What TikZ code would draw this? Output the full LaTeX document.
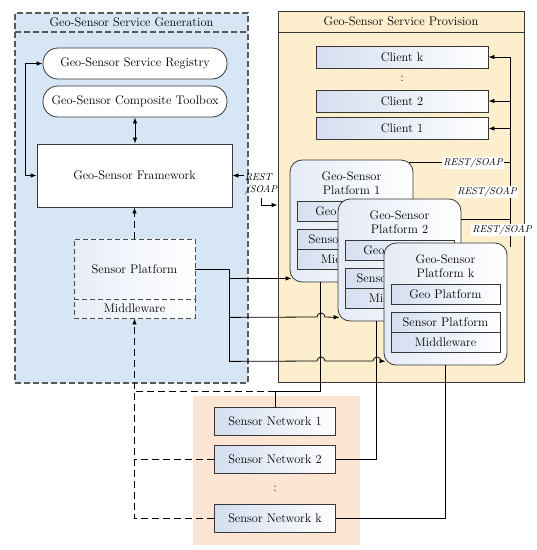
\documentclass[tikz,border=0pt]{standalone}
\usepackage{tikz}
\usetikzlibrary{arrows.meta}

\definecolor{genblue}{RGB}{214,230,245}
\definecolor{provyellow}{RGB}{253,238,205}
\definecolor{netorange}{RGB}{252,229,211}
\definecolor{boxblue}{RGB}{212,222,240}
\definecolor{linegray}{RGB}{55,55,55}

\tikzset{
  area/.style={draw=linegray, line width=0.9pt, inner sep=0pt},
  gendash/.style={draw=black!65, line width=1.1pt, dash pattern=on 6pt off 3pt},
  pill/.style={draw=linegray, line width=0.8pt, fill=white, rounded corners=15pt,
    minimum width=184pt, minimum height=31pt, inner sep=0pt},
  shadebox/.style={draw=linegray, line width=0.8pt, left color=boxblue, right color=white, inner sep=0pt},
  inbox/.style={minimum width=109pt, minimum height=20pt},
  netbox/.style={minimum width=121pt, minimum height=28pt},
  clientbox/.style={minimum width=172pt, minimum height=22pt},
  platbox/.style={draw=linegray, line width=0.8pt, rounded corners=12pt,
    left color=boxblue!60, right color=white, minimum width=123pt, minimum height=122pt},
  spbox/.style={draw=black!70, line width=0.9pt, dash pattern=on 5pt off 3pt,
    left color=boxblue!55, right color=white, minimum width=121pt, inner sep=0pt},
  link/.style={draw=black, line width=0.8pt},
  dashlink/.style={link, dash pattern=on 7pt off 4pt},
  rest/.style={font=\itshape\fontsize{10}{12}\selectfont, fill=white, inner sep=1pt},
}

\begin{document}
\begin{tikzpicture}[x=1pt,y=-1pt,>={Latex[length=6pt,width=4.5pt]},
  font=\fontsize{12.4}{14.5}\selectfont]
\useasboundingbox (0,0) rectangle (537,550);

% service areas
\node[area,gendash,fill=genblue,minimum width=233pt,minimum height=370pt] (gen) at (131.5,198) {};
\draw[gendash] (15,32) -- (248,32);
\node (gentitle) at (131.5,22.5) {Geo-Sensor Service Generation};
\node[area,fill=provyellow,minimum width=246pt,minimum height=371pt] (prov) at (401,196.5) {};
\draw[area] (278,32) -- (524,32);
\node (provtitle) at (401,21.5) {Geo-Sensor Service Provision};
\fill[netorange] (193,396) rectangle (360,545);

% generation side
\node[pill] (registry) at (135,63.5) {Geo-Sensor Service Registry};
\node[pill] (toolbox) at (135,101.5) {Geo-Sensor Composite Toolbox};
\node[draw=linegray,line width=0.8pt,fill=white,minimum width=195pt,minimum height=63pt] (framework) at (134.5,175.5) {Geo-Sensor Framework};
\node[spbox,minimum height=60pt] (sensplat) at (134.5,269) {Sensor Platform};
\node[spbox,minimum height=19pt] (middle) at (134.5,308.5) {Middleware};

% clients
\node[shadebox,clientbox] (clientk) at (402,57) {Client k};
\node (cdots) at (402,79) {:};
\node[shadebox,clientbox] (client2) at (402,101) {Client 2};
\node[shadebox,clientbox] (client1) at (402,128.5) {Client 1};

% platforms
\foreach \i/\px/\py in {1/351.5/221, 2/399.5/260, k/445.5/304}{
  \node[platbox] (p\i) at (\px,\py) {};
  \node[align=center] (p\i title) at ([yshift=-23.5pt]p\i.north) {Geo-Sensor\\Platform \i};
  \node[shadebox,inbox] (p\i geo) at ([yshift=-52pt]p\i.north) {Geo Platform};
  \node[shadebox,inbox] (p\i sens) at ([yshift=-80pt]p\i.north) {Sensor Platform};
  \node[shadebox,inbox] (p\i mid) at ([yshift=-100pt]p\i.north) {Middleware};
}

% sensor networks
\node[shadebox,netbox] (net1) at (275,421.5) {Sensor Network 1};
\node[shadebox,netbox] (net2) at (275,459) {Sensor Network 2};
\node (ndots) at (275,489) {:};
\node[shadebox,netbox] (netk) at (275,518.5) {Sensor Network k};

% links inside generation
\draw[link,<->] (registry.west) -- ++(-17,0) |- (framework.west);
\draw[link,<->] (toolbox.south) -- (toolbox.south |- framework.north);
\draw[dashlink,->] (sensplat.north) -- (framework.south);

% rest between framework and provision
\node[rest,fill=none,align=left] (fwrest) at (261,184) {REST\\/SOAP};
\draw[link,->] (fwrest.west |- framework.east) -- (framework.east);
\draw[link,->] ([yshift=-2pt]fwrest.south) |- ([yshift=-8.5pt]prov.west);

% sensor platform to platforms
\coordinate (bus) at (229,269);
\coordinate (in1) at ([xshift=2pt,yshift=4pt]p1.south west);
\coordinate (in2) at ([xshift=2pt,yshift=4pt]p2.south west);
\coordinate (in3) at ([xshift=2pt,yshift=4pt]pk.south west);
\coordinate (d1) at ([xshift=31pt]p1.south west);
\coordinate (d2) at ([xshift=39pt]p2.south west);
\draw[link] (sensplat.east) -- (bus) -- (bus |- in3);
\draw[link,->] (bus |- in1) -- (in1);
\draw[link,->] (bus |- in2) -- (317,317) arc[start angle=180,end angle=0,radius=4pt] -- (in2);
\draw[link,->] (bus |- in3) -- (317,361) arc[start angle=180,end angle=0,radius=4pt]
  -- (373,361) arc[start angle=180,end angle=0,radius=4pt] -- (in3);

% platforms to sensor networks
\coordinate (njoin) at (275,391);
\draw[link] (d1) |- (njoin) -- (net1.north);
\draw[link] (net2.east) -| (d2);
\draw[link] (netk.east) -| (pk.south);
\draw[dashlink,->] (netk.west) -| (middle.south);
\draw[dashlink] (net2.west) -- (net2.west -| middle.south);
\draw[dashlink] (njoin) -- (njoin -| middle.south);

% platforms to clients
\coordinate (rbus) at ([xshift=3pt,yshift=-4pt]pk.north east);
\coordinate (o1) at ([xshift=-4pt,yshift=-3pt]p1.north east);
\coordinate (o2) at ([yshift=-21pt]p2.north east);
\draw[link] (rbus) -- (rbus |- clientk.east);
\foreach \c in {clientk,client2,client1}
  \draw[link,->] (rbus |- \c.east) -- (\c.east);
\draw[link] (o1) -- node[rest,pos=0.63] (rest1) {REST/SOAP} (o1 -| rbus);
\draw[link] (o2) -- (o2 -| rbus);
\node[rest] (rest2) at (487,192) {REST/SOAP};
\node[rest] (restk) at (502,230) {REST/SOAP};
\end{tikzpicture}
\end{document}
